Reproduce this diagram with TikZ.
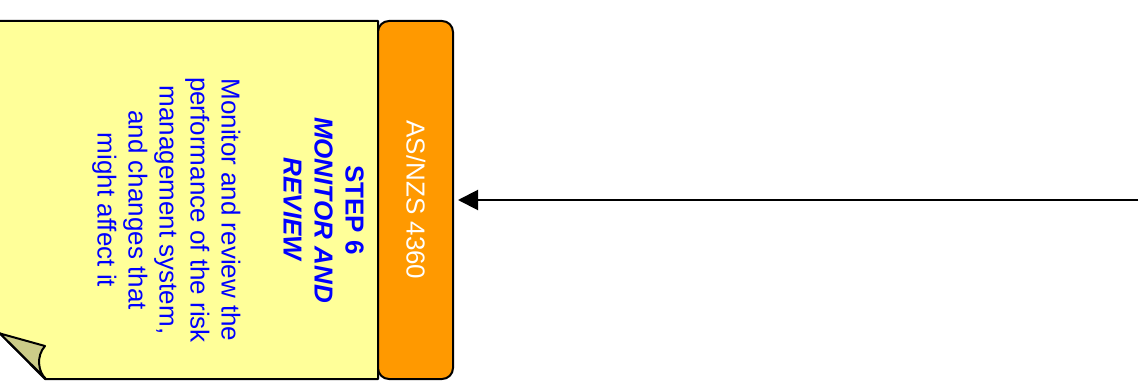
\documentclass[tikz,border=0pt]{standalone}
\usepackage{fontspec}
\setmainfont{Liberation Sans}
\usetikzlibrary{arrows.meta}
\definecolor{noteyellow}{RGB}{255,255,153}
\definecolor{foldkhaki}{RGB}{204,204,136}
\definecolor{boxorange}{RGB}{255,153,0}
\definecolor{textblue}{RGB}{0,0,255}
\tikzset{
  outline/.style={draw=black, line width=2pt, line join=round},
  stdbox/.style={outline, fill=boxorange, rounded corners=11pt, minimum width=75pt, minimum height=358pt, inner sep=0pt},
  notetext/.style={text=textblue, font=\fontsize{26}{31}\selectfont, align=center, rotate=-90, inner sep=0pt},
  link/.style={line width=2pt, -{Triangle[length=20pt,width=20pt]}, shorten >=4pt}
}
\begin{document}
\begin{tikzpicture}[x=1pt,y=-1pt]
\useasboundingbox (0,0) rectangle (1146,385);
% note body
\fill[noteyellow] (-5,21) -- (378,21) -- (378,379) -- (45,379) -- (-5,328) -- cycle;
\draw[outline] (-5,21) -- (378,21) -- (378,379) -- (45,379) -- (0,333.5) -- (-5,328);
% folded corner
\draw[outline, fill=foldkhaki] (0,333.5) -- (45,346) .. controls (36,356) and (38,372) .. (46,379) -- cycle;
\node[notetext] (note) at (228,210) {\textbf{STEP 6}\\\textbf{\textit{MONITOR AND}}\\\textbf{\textit{REVIEW}}\\[31pt]Monitor and review the\\performance of the risk\\management system,\\and changes that\\might affect it};
% standard box
\node[stdbox] (std) at (415.5,200) {};
\node[rotate=-90, text=white, font=\fontsize{26}{31}\selectfont, inner sep=0pt] (stdlabel) at (416,200) {AS/NZS 4360};
% incoming arrow
\coordinate (src) at (1138,200);
\draw[link] (src) -- (std.east);
\end{tikzpicture}
\end{document}
